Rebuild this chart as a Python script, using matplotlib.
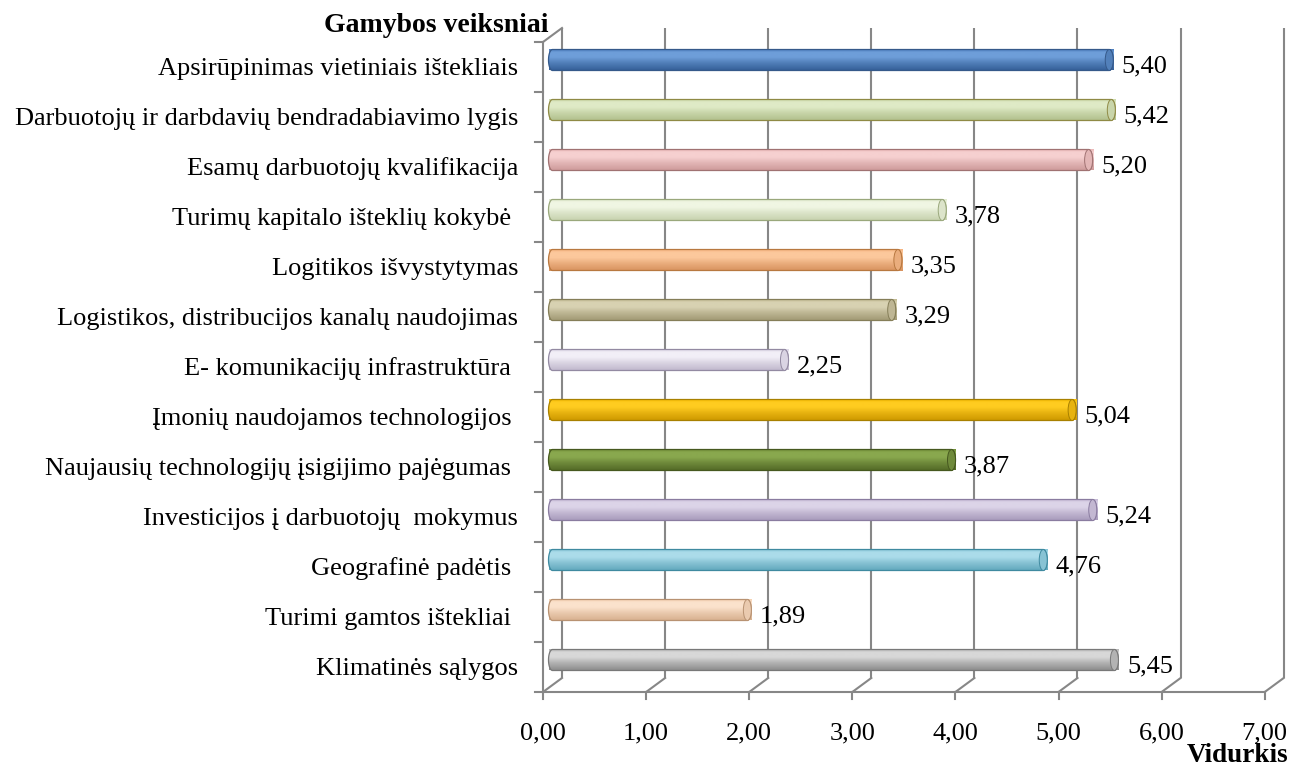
import numpy as np
import matplotlib
matplotlib.use("Agg")
import matplotlib.pyplot as plt
from matplotlib.path import Path
from matplotlib.patches import PathPatch, Ellipse
from matplotlib.colors import to_rgb

categories = [
    "Apsirūpinimas vietiniais ištekliais",
    "Darbuotojų ir darbdavių bendradabiavimo lygis",
    "Esamų darbuotojų kvalifikacija",
    "Turimų kapitalo išteklių kokybė ",
    "Logitikos išvystytymas",
    "Logistikos, distribucijos kanalų naudojimas",
    "E- komunikacijų infrastruktūra ",
    "Įmonių naudojamos technologijos ",
    "Naujausių technologijų įsigijimo pajėgumas ",
    "Investicijos į darbuotojų  mokymus",
    "Geografinė padėtis ",
    "Turimi gamtos ištekliai ",
    "Klimatinės sąlygos",
]
values = [5.40, 5.42, 5.20, 3.78, 3.35, 3.29, 2.25, 5.04, 3.87, 5.24, 4.76, 1.89, 5.45]
x_ticks = [0, 1, 2, 3, 4, 5, 6, 7]
x_title = "Vidurkis"
y_title = "Gamybos veiksniai"

# (top edge, highlight, bottom, outline)
bar_colors = [
    ("#4a7bbc", "#6e9ed9", "#36619a", "#35598a"),
    ("#cbd9ab", "#dfeac6", "#b2c18e", "#8f8a45"),
    ("#eab8b8", "#f6d0d0", "#cf9c9c", "#a07272"),
    ("#e0e9cd", "#f0f6e3", "#c8d3b0", "#9aa87c"),
    ("#f5b27e", "#fcc89c", "#d8925e", "#b87840"),
    ("#c0b890", "#d8d2b2", "#a39b76", "#857e58"),
    ("#dcd6e6", "#f2eff7", "#c2bace", "#938aa2"),
    ("#f5ba00", "#ffcc20", "#cf9a00", "#a88000"),
    ("#718f38", "#89a84e", "#556c28", "#46581f"),
    ("#c4b8d4", "#dcd4e8", "#a99cbc", "#8a7ca0"),
    ("#86c4d6", "#abdcea", "#64aabe", "#3f8aa0"),
    ("#f4d0b0", "#fbe2cc", "#d9b291", "#b89272"),
    ("#b4b4b4", "#d8d8d8", "#8e8e8e", "#787878"),
]

W, H = 1292, 767
fig = plt.figure(figsize=(W / 100, H / 100), dpi=100)
fig.patch.set_facecolor("white")

# plot area (middle depth plane of the 3-D box)
px_per_unit = 103.1
left_px, top_px, bottom_px = 552.5, 35.0, 685.0
n = len(categories)
ax = fig.add_axes([left_px / W, (H - bottom_px) / H,
                   7 * px_per_unit / W, (bottom_px - top_px) / H])
ax.set_xlim(0, 7)
ax.set_ylim(0, n)
ax.set_axis_off()

ux = 1.0 / px_per_unit                   # one pixel in x data units
uy = n / (bottom_px - top_px)            # one pixel in y data units
ddx, ddy = 9.5 * ux, 7.0 * uy            # half depth of the box

grid_c = "#878787"
lw = 1.5
fs = 19
serif = "Liberation Serif"

# back wall gridlines
for k in x_ticks:
    ax.plot([k + ddx, k + ddx], [ddy, n + ddy], color=grid_c, lw=lw,
            clip_on=False, zorder=1, solid_capstyle="butt")
    # floor diagonals
    ax.plot([k - ddx, k + ddx], [-ddy, ddy], color=grid_c, lw=lw,
            clip_on=False, zorder=1)
    # front ticks
    ax.plot([k - ddx, k - ddx], [-ddy, -ddy - 7 * uy], color=grid_c, lw=lw,
            clip_on=False, zorder=1)
    ax.text(k - ddx, -1.08, f"{k:.2f}".replace(".", ","), ha="center",
            va="baseline", fontsize=fs, family=serif)

# floor front edge
ax.plot([-ddx, 7 - ddx], [-ddy, -ddy], color=grid_c, lw=lw, clip_on=False, zorder=1)
# left wall front edge
ax.plot([-ddx, -ddx], [-ddy, n - ddy], color=grid_c, lw=lw, clip_on=False, zorder=1)
ax.plot([-ddx, ddx], [n - ddy, n + ddy], color=grid_c, lw=lw, clip_on=False, zorder=1)
for j in range(n + 1):
    ax.plot([-ddx - 8 * ux, -ddx], [j - ddy, j - ddy], color=grid_c, lw=lw,
            clip_on=False, zorder=1)

# cylinders
h = 21 * uy
a = 4 * ux
t = np.linspace(-np.pi / 2, np.pi / 2, 40)
for i, (cat, v) in enumerate(zip(categories, values)):
    yc = n - 0.5 - i
    top_c, hi_c, bot_c, edge_c = bar_colors[i]
    right = np.column_stack([v + a * np.cos(t), yc + (h / 2) * np.sin(t)])
    left = np.column_stack([0 - a * np.cos(t[::-1]), yc + (h / 2) * np.sin(t[::-1])])
    verts = np.vstack([right, left, right[:1]])
    codes = [Path.MOVETO] + [Path.LINETO] * (len(verts) - 2) + [Path.CLOSEPOLY]
    body = PathPatch(Path(verts, codes), facecolor="none", edgecolor=edge_c,
                     lw=0.9, zorder=4, clip_on=False)
    # vertical shading of the cylinder
    stops = [0.0, 0.15, 0.38, 0.65, 1.0]
    mid_c = [(p + q) / 2 for p, q in zip(to_rgb(hi_c), to_rgb(bot_c))]
    cols = np.array([to_rgb(top_c), to_rgb(hi_c), to_rgb(hi_c), mid_c, to_rgb(bot_c)])
    rows = np.linspace(0, 1, 64)
    grad = np.stack([np.interp(rows, stops, cols[:, c]) for c in range(3)], axis=1)
    img = ax.imshow(grad[:, None, :], extent=(-a, v + a, yc - h / 2, yc + h / 2),
                    aspect="auto", origin="upper", zorder=3, clip_on=False,
                    interpolation="bilinear")
    img.set_clip_path(PathPatch(Path(verts, codes), transform=ax.transData))
    ax.add_patch(body)
    # end cap
    cap_col = [(p * 0.5 + q * 0.5) for p, q in zip(to_rgb(hi_c), to_rgb(bot_c))]
    ax.add_patch(Ellipse((v, yc), 2 * a, h, facecolor=cap_col, edgecolor=edge_c,
                         lw=0.7, zorder=5, clip_on=False))
    # value label
    ax.text(v + 12.5 * ux, yc - 12.5 * uy, f"{v:.2f}".replace(".", ","),
            ha="left", va="baseline", fontsize=fs, family=serif, zorder=6)
    # category label
    ax.text(-34.5 * ux, yc - 15 * uy, cat, ha="right", va="baseline",
            fontsize=fs, family=serif, zorder=6)

ax.set_ylim(0, n)
ax.set_xlim(0, 7)

ax.text(-3.5 * ux, n + 3 * uy, y_title, ha="right", va="baseline", fontsize=20,
        fontweight="bold", family=serif)
ax.text(7 + 13.8 * ux, -77 * uy, x_title, ha="right", va="baseline", fontsize=19.5,
        fontweight="bold", family=serif)

fig.savefig("out.png", dpi=100, facecolor="white")
